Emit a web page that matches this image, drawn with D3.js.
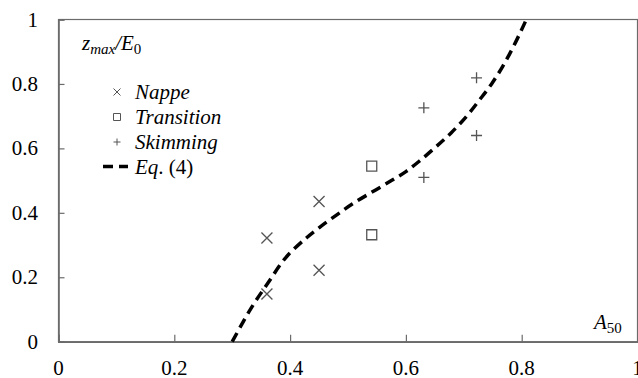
<!DOCTYPE html>
<html>
<head>
<meta charset="utf-8">
<script src="https://cdn.jsdelivr.net/npm/d3@7"></script>
<style>
  body { margin: 0; background: #fff; }
  #chart text { font-family: "Liberation Serif", Tinos, "Times New Roman", Times, "DejaVu Serif", serif !important; }
</style>
</head>
<body>
<svg id="chart" width="638" height="378"></svg>
<script>
// data
var nappeX = [0.36, 0.36, 0.45, 0.45];
var nappeY = [0.322, 0.148, 0.435, 0.222];
var transX = [0.541, 0.541];
var transY = [0.545, 0.332];
var skimX = [0.631, 0.631, 0.722, 0.722];
var skimY = [0.726, 0.510, 0.819, 0.640];
// Eq. (4) curve, traced
var eqX = [0.300, 0.333, 0.362, 0.393, 0.428, 0.451, 0.480, 0.508, 0.543, 0.575, 0.600, 0.623, 0.652, 0.678, 0.704, 0.727, 0.748, 0.767, 0.784, 0.799, 0.808];
var eqY = [0.000, 0.105, 0.183, 0.262, 0.322, 0.355, 0.393, 0.428, 0.466, 0.500, 0.528, 0.560, 0.605, 0.648, 0.698, 0.750, 0.800, 0.854, 0.910, 0.965, 1.000];
var xTicks = [0, 0.2, 0.4, 0.6, 0.8, 1];
var yTicks = [0, 0.2, 0.4, 0.6, 0.8, 1];
var legendLabels = ["Nappe", "Transition", "Skimming"];

var svg = d3.select("#chart");
var x = d3.scaleLinear().domain([0, 1]).range([58.5, 637.5]);
var y = d3.scaleLinear().domain([0, 1]).range([341.7, 19.5]);
var axisCol = "#6b6b6b";
var markCol = "#555";

// frame
svg.append("rect")
  .attr("x", x(0)).attr("y", y(1))
  .attr("width", x(1) - x(0)).attr("height", y(0) - y(1))
  .attr("fill", "none").attr("stroke", axisCol).attr("stroke-width", 1.2);

// axes, ticks inside
var xAxis = svg.append("g").attr("transform", "translate(0," + y(0) + ")")
  .call(d3.axisTop(x).tickValues(xTicks).tickSize(7).tickFormat(""));
var yAxis = svg.append("g").attr("transform", "translate(" + x(0) + ",0)")
  .call(d3.axisRight(y).tickValues(yTicks).tickSize(6).tickFormat(""));
[xAxis, yAxis].forEach(function(g){
  g.select(".domain").attr("stroke", axisCol).attr("stroke-width", 1.6);
  g.selectAll(".tick line").attr("stroke", axisCol).attr("stroke-width", 1.2);
});

// tick labels
svg.selectAll(".xlab").data(xTicks).enter().append("text")
  .attr("x", function(d){ return x(d); })
  .attr("y", 375)
  .attr("text-anchor", "middle")
  .attr("font-size", 21)
  .text(function(d){ return d3.format("")(d); });
svg.selectAll(".ylab").data(yTicks).enter().append("text")
  .attr("x", 38)
  .attr("y", function(d){ return y(d) + 7; })
  .attr("text-anchor", "end")
  .attr("font-size", 21)
  .text(function(d){ return d3.format("")(d); });

// axis titles
var yt = svg.append("text").attr("x", 82).attr("y", 50).attr("font-size", 21).attr("font-style", "italic");
yt.append("tspan").text("z");
yt.append("tspan").attr("font-size", 15).attr("dy", 4).text("max");
yt.append("tspan").attr("dy", -4).text("/E");
yt.append("tspan").attr("font-size", 15).attr("font-style", "normal").attr("dy", 4).text("0");

var xt = svg.append("text").attr("x", 594).attr("y", 329).attr("font-size", 21);
xt.append("tspan").attr("font-style", "italic").text("A");
xt.append("tspan").attr("font-size", 15).attr("dy", 4).text("50");

// marker shapes
function cross(r){ return "M" + (-r) + "," + (-r) + "L" + r + "," + r + "M" + (-r) + "," + r + "L" + r + "," + (-r); }
function plus(r){ return "M" + (-r) + ",0L" + r + ",0M0," + (-r) + "L0," + r; }
function square(r){ return "M" + (-r) + "," + (-r) + "H" + r + "V" + r + "H" + (-r) + "Z"; }

function drawPts(xs, ys, shape, r){
  svg.append("g").selectAll("path").data(xs).enter().append("path")
    .attr("transform", function(d, i){ return "translate(" + x(d) + "," + y(ys[i]) + ")"; })
    .attr("d", shape(r))
    .attr("fill", "none").attr("stroke", markCol).attr("stroke-width", 1.3);
}
drawPts(nappeX, nappeY, cross, 5.5);
drawPts(transX, transY, square, 5);
drawPts(skimX, skimY, plus, 5.5);

// Eq. (4)
var line = d3.line()
  .x(function(d){ return x(d[0]); })
  .y(function(d){ return y(d[1]); })
  .curve(d3.curveCatmullRom.alpha(0.5));
svg.append("path")
  .datum(d3.zip(eqX, eqY))
  .attr("d", line)
  .attr("fill", "none").attr("stroke", "#000")
  .attr("stroke-width", 3.5).attr("stroke-dasharray", "10,6");

// legend
var shapes = [cross, square, plus];
var legY = [92, 117, 142];
legendLabels.forEach(function(lab, i){
  svg.append("path")
    .attr("transform", "translate(117," + legY[i] + ")")
    .attr("d", shapes[i](3.5))
    .attr("fill", "none").attr("stroke", markCol).attr("stroke-width", 1);
  svg.append("text").attr("x", 135).attr("y", legY[i] + 7)
    .attr("font-size", 21).attr("font-style", "italic").text(lab);
});
svg.append("line")
  .attr("x1", 103).attr("x2", 128).attr("y1", 166.5).attr("y2", 166.5)
  .attr("stroke", "#000").attr("stroke-width", 3.5).attr("stroke-dasharray", "10,6");
var eqt = svg.append("text").attr("x", 135).attr("y", 173.5).attr("font-size", 21);
eqt.append("tspan").attr("font-style", "italic").text("Eq");
eqt.append("tspan").text(". (4)");
</script>
</body>
</html>
